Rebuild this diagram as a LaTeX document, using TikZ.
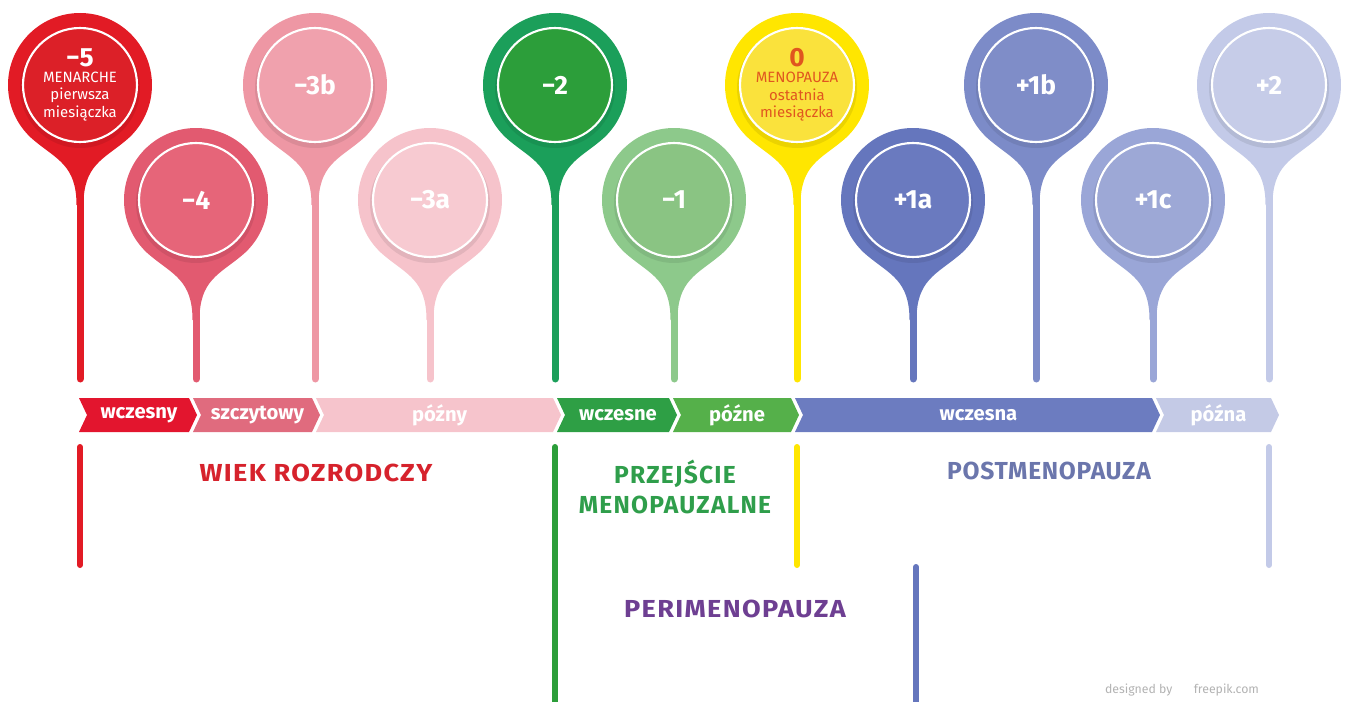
\documentclass[tikz,border=0pt]{standalone}
\usepackage{fontspec}
\setmainfont{Fira Sans}
\usepackage{graphicx}
\usepackage{tikz}
\usetikzlibrary{calc,positioning}

% pin colours (outer ring / inner disc)
\definecolor{redA}{HTML}{E21B25}
\definecolor{redB}{HTML}{DC2028}
\definecolor{roseA}{HTML}{E25A70}
\definecolor{roseB}{HTML}{E66579}
\definecolor{pinkA}{HTML}{EE97A4}
\definecolor{pinkB}{HTML}{F0A1AD}
\definecolor{paleA}{HTML}{F6C3CB}
\definecolor{paleB}{HTML}{F7CAD1}
\definecolor{greenA}{HTML}{1B9F5A}
\definecolor{greenB}{HTML}{2C9E3A}
\definecolor{sageA}{HTML}{8DC98B}
\definecolor{sageB}{HTML}{8AC483}
\definecolor{yelA}{HTML}{FFE600}
\definecolor{yelB}{HTML}{FAE23C}
\definecolor{blueA}{HTML}{6576BD}
\definecolor{blueB}{HTML}{6A7ABF}
\definecolor{periA}{HTML}{7C8BC8}
\definecolor{periB}{HTML}{7F8DC8}
\definecolor{lilacA}{HTML}{9AA6D7}
\definecolor{lilacB}{HTML}{9DA8D6}
\definecolor{mistA}{HTML}{C3CAE8}
\definecolor{mistB}{HTML}{C6CCE8}
% bar colours
\definecolor{barA}{HTML}{E3152E}
\definecolor{barB}{HTML}{E06B7E}
\definecolor{barC}{HTML}{F6C4CC}
\definecolor{barD}{HTML}{2E9F45}
\definecolor{barE}{HTML}{55B04A}
\definecolor{barF}{HTML}{6C7CC0}
\definecolor{barG}{HTML}{C4CAE6}
% phase labels
\definecolor{wiekC}{HTML}{D6222C}
\definecolor{przC}{HTML}{2F9E4B}
\definecolor{postC}{HTML}{6B76AC}
\definecolor{periC}{HTML}{6E3F92}
\definecolor{zeroC}{HTML}{E0561F}

% #1 disc options, #2 name, #3 x, #4 y, #5 ring colour, #6 disc colour, #7 text
\newcommand{\pin}[7][]{%
  \fill[#5] ($(#3,#4)+(230:72)$) arc[start angle=230, end angle=-50, radius=72]
    .. controls +(220:30) and +(0,40) .. ($(#3,#4)+(3.5,-120)$)
    -- ($(#3,#4)+(-3.5,-120)$)
    .. controls +(0,40) and +(-40:30) .. ($(#3,#4)+(230:72)$) -- cycle;
  \draw[#5, line width=0.14cm, line cap=round] ($(#3,#4)+(0,-100)$) -- (#3,322);
  \fill[black, opacity=0.08] ($(#3,#4)+(0,-3)$) circle[radius=60];
  \node[disc, fill=#6, #1] (#2) at (#3,#4) {#7};
}
% #1 name, #2 notch x, #3 tip x, #4 colour, #5 text
\newcommand{\chev}[5]{%
  \fill[#4] (#2-8,303) -- (#3-8,303) -- (#3,286) -- (#3-8,269) -- (#2-8,269) -- (#2,286) -- cycle;
  \node[barlabel] (#1) at ({(#2+#3)/2-3},286) {#5};
}
\newcommand{\wide}[1]{\scalebox{1.1}[1]{#1}}

\begin{document}
\begin{tikzpicture}[
    x=0.02cm, y=0.02cm,
    disc/.style={circle, minimum size=2.28cm, inner sep=0pt, draw=white, line width=1.2pt,
      text=white, align=center, font=\bfseries\fontsize{15}{15}\selectfont},
    barlabel/.style={text=white, font=\bfseries\fontsize{11.5}{11.5}\selectfont},
    phase/.style={align=center},
    spaced/.style={font=\bfseries\fontsize{14}{17}\selectfont\addfontfeatures{LetterSpace=#1}},
    vline/.style={line width=0.12cm, line cap=round},
]
    \useasboundingbox (0,0) rectangle (1349,701);

    % Pins
    \pin[font=\fontsize{8.5}{10}\selectfont]{m5}{80}{616}{redA}{redB}%
      {{\bfseries\fontsize{15}{15}\selectfont −5}\\[-1pt]MENARCHE\\pierwsza\\miesiączka}
    \pin{m4}{196}{501}{roseA}{roseB}{−4}
    \pin{m3b}{315}{616}{pinkA}{pinkB}{−3b}
    \pin{m3a}{430}{501}{paleA}{paleB}{−3a}
    \pin{m2}{555}{616}{greenA}{greenB}{−2}
    \pin{m1}{674}{501}{sageA}{sageB}{−1}
    \pin[text=zeroC, font=\fontsize{8.5}{10}\selectfont]{z0}{797}{616}{yelA}{yelB}%
      {{\bfseries\fontsize{15}{15}\selectfont 0}\\[-1pt]MENOPAUZA\\ostatnia\\miesiączka}
    \pin{p1a}{913}{501}{blueA}{blueB}{+1a}
    \pin{p1b}{1036}{616}{periA}{periB}{+1b}
    \pin{p1c}{1153}{501}{lilacA}{lilacB}{+1c}
    \pin{p2}{1269}{616}{mistA}{mistB}{+2}

    % Stage bar
    \chev{wczesny}{87}{197}{barA}{wczesny}
    \chev{szczytowy}{201}{320}{barB}{szczytowy}
    \chev{pozny}{324}{561}{barC}{późny}
    \chev{wczesne}{565}{677}{barD}{wczesne}
    \chev{pozne}{681}{799}{barE}{późne}
    \chev{wczesna}{803}{1160}{barF}{wczesna}
    \chev{pozna}{1164}{1279}{barG}{późna}

    % Phase markers
    \draw[vline, redA] (80,254) -- (80,136);
    \draw[vline, greenB] (555,254) -- (555,-6);
    \draw[vline, yelA] (797,254) -- (797,136);
    \draw[vline, blueA] (916,134) -- (916,-6);
    \draw[vline, mistA] (1269,254) -- (1269,136);

    % Phase labels
    \node[phase, spaced=5, text=wiekC] (wiek) at (316,228) {\wide{WIEK ROZRODCZY}};
    \node[phase, spaced=5, text=przC] (przejscie) at (675,214) {PRZEJŚCIE\\MENOPAUZALNE};
    \node[phase, spaced=3, text=postC] (postmeno) at (1049,230) {POSTMENOPAUZA};
    \node[phase, spaced=5, text=periC] (perimeno) at (735,92) {\wide{PERIMENOPAUZA}};

    % Credit
    \node[font=\fontsize{7}{7}\selectfont, text=black!30] (credit) at (1182,11) {designed by \hspace{1.2em} freepik.com};
\end{tikzpicture}
\end{document}
